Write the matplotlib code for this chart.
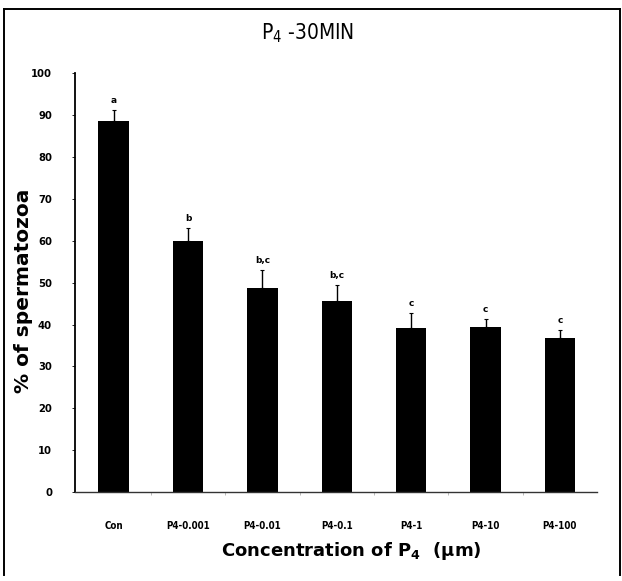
import numpy as np
import matplotlib
matplotlib.use("Agg")
import matplotlib.pyplot as plt
from matplotlib.lines import Line2D

plt.rcParams['mathtext.default'] = 'regular'

# Sperm response after 30 min of progesterone exposure
groups = ["Con", "P4-0.001", "P4-0.01", "P4-0.1", "P4-1", "P4-10", "P4-100"]
means = [88.5, 60.0, 48.7, 45.6, 39.1, 39.4, 36.8]
errors = [2.7, 3.0, 4.3, 3.8, 3.6, 1.9, 1.9]
letters = ["a", "b", "b,c", "b,c", "c", "c", "c"]
yticks = [0, 10, 20, 30, 40, 50, 60, 70, 80, 90, 100]

fig = plt.figure(figsize=(6.22, 5.81), dpi=100)
ax = fig.add_axes([0.1206, 0.153, 0.8394, 0.721])

x = np.arange(len(groups))
ax.bar(x, means, width=0.41, color="black", zorder=2)
ax.errorbar(x, means, yerr=[np.zeros(len(errors)), errors], fmt="none",
            ecolor="black", elinewidth=1.0, capsize=1.5, capthick=0.8, zorder=3)
for xi, m, e, lab in zip(x, means, errors, letters):
    ax.text(xi, m + e + 1.2, lab, ha="center", va="bottom",
            fontsize=6.5, fontweight="bold")

ax.set_xlim(-0.52, len(groups) - 0.5)
ax.set_ylim(0, 100)
ax.set_yticks(yticks)
ax.set_yticklabels([str(t) for t in yticks], fontsize=8, fontweight="bold",
                   fontstretch="condensed")
ax.set_xticks(x)
ax.set_xticklabels(groups, fontsize=7, fontweight="bold", fontstretch="condensed")
ax.set_xticks(x[:-1] + 0.5, minor=True)
ax.tick_params(axis="y", direction="out", length=2.5, width=0.6, pad=14)
ax.tick_params(axis="x", which="major", length=0, pad=21)
ax.tick_params(axis="x", which="minor", direction="out", length=2, width=0.4, color="#888888")

for side in ("top", "right"):
    ax.spines[side].set_visible(False)
ax.spines["left"].set_linewidth(1.3)
ax.spines["bottom"].set_linewidth(1.0)
ax.spines["bottom"].set_color("#333333")

fig.text(0.037, 0.5, "% of spermatozoa", rotation=90, ha="center", va="center",
         fontsize=14.5, fontweight="heavy")
fig.text(0.565, 0.052, r"Concentration of P$_4$  (μm)", ha="center", va="center",
         fontsize=13, fontweight="bold")
fig.text(0.495, 0.942, r"P$_4$ -30MIN", ha="center", va="center",
         fontsize=15, fontstretch="condensed")

# thin frame around the panel (left, top, right)
frame_kw = dict(color="black", linewidth=1.4, transform=fig.transFigure)
fig.add_artist(Line2D([0.006, 0.006], [0.01, 0.985], **frame_kw))
fig.add_artist(Line2D([0.006, 0.997], [0.985, 0.985], **frame_kw))
fig.add_artist(Line2D([0.997, 0.997], [0.01, 0.985], **frame_kw))

fig.savefig("out.png", dpi=100)
